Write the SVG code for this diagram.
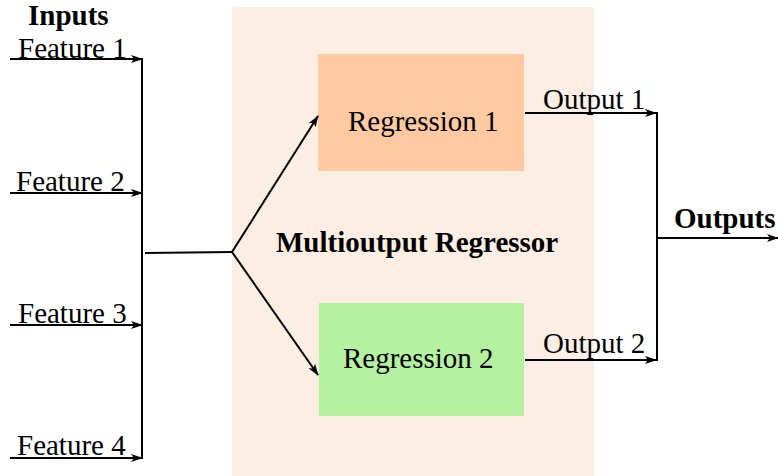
<svg xmlns="http://www.w3.org/2000/svg" width="778" height="476" viewBox="0 0 778 476">
<style>
.t{font-family:"Liberation Serif","DejaVu Serif","Times New Roman",serif;font-size:29px;fill:#000}
.b{font-family:"Liberation Serif","DejaVu Serif","Times New Roman",serif;font-size:29px;font-weight:bold;fill:#000}
.l{stroke:#000;stroke-width:2;fill:none}
.a{stroke:#000;stroke-width:2;fill:none;marker-end:url(#ah)}
</style>
<defs>
<marker id="ah" viewBox="0 0 12 8" refX="11" refY="4" markerWidth="12" markerHeight="8" markerUnits="userSpaceOnUse" orient="auto">
<path d="M0,0 L12,4 L0,8 L3,4 Z" fill="#000"/>
</marker>
</defs>
<rect x="0" y="0" width="778" height="476" fill="#fff"/>
<g id="container">
<rect x="232" y="7" width="362" height="469" fill="#FDEEE3"/>
<text class="b" x="276" y="252">Multioutput Regressor</text>
</g>
<g id="inputs"><text class="b" x="28" y="25">Inputs</text></g>
<g id="feature1"><text class="t" x="18" y="58">Feature 1</text></g>
<g id="feature2"><text class="t" x="16" y="191">Feature 2</text></g>
<g id="feature3"><text class="t" x="18" y="323">Feature 3</text></g>
<g id="feature4"><text class="t" x="17" y="455">Feature 4</text></g>
<g id="regression1">
<rect x="318" y="54" width="206" height="117" fill="#FFC9A1"/>
<text class="t" x="348" y="131">Regression 1</text>
</g>
<g id="regression2">
<rect x="319" y="303" width="205" height="113" fill="#B4F2A2"/>
<text class="t" x="343" y="368">Regression 2</text>
</g>
<g id="output1"><text class="t" x="543" y="109">Output 1</text></g>
<g id="output2"><text class="t" x="543" y="353">Output 2</text></g>
<g id="outputs"><text class="b" x="674" y="228">Outputs</text></g>
<g id="connectors">
<path class="a" d="M10,59 H142"/>
<path class="a" d="M10,193 H142"/>
<path class="a" d="M10,325 H142"/>
<path class="a" d="M10,458 H142"/>
<path class="l" d="M142,58 V459"/>
<path class="l" d="M145,253 L232,252"/>
<path class="a" d="M232,252 L318,116"/>
<path class="a" d="M232,252 L318,375"/>
<path class="a" d="M525,113 H656"/>
<path class="a" d="M525,360 H656"/>
<path class="l" d="M657,112 V361"/>
<path class="a" d="M656,238 H778"/>
</g>
</svg>
